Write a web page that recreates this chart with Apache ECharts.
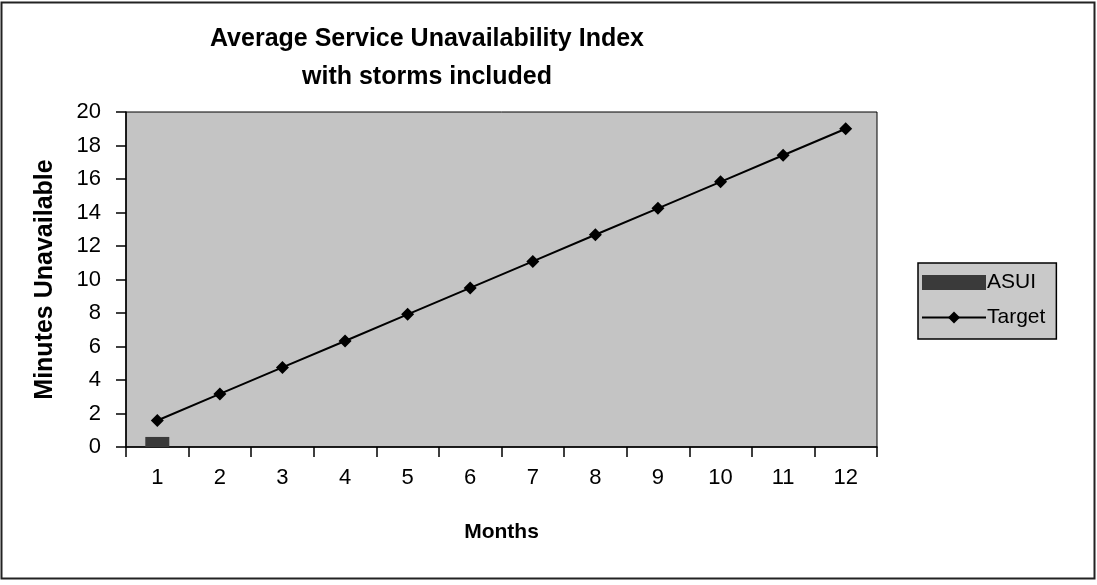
<!DOCTYPE html>
<html><head><meta charset="utf-8">
<script src="https://cdn.jsdelivr.net/npm/echarts@6/dist/echarts.min.js"></script>
<style>html,body{margin:0;padding:0;background:#fff}#c{width:1097px;height:585px}</style>
</head><body><div id="c"></div>
<script>
var months = ['1','2','3','4','5','6','7','8','9','10','11','12'];
var asui = [0.6, null, null, null, null, null, null, null, null, null, null, null];
var target = [1.58, 3.17, 4.75, 6.33, 7.92, 9.5, 11.08, 12.67, 14.25, 15.83, 17.42, 19.0];
var titleLines = ['Average Service Unavailability Index', 'with storms included'];

var chart = echarts.init(document.getElementById('c'));
var font = 'Liberation Sans, Arial, sans-serif';
chart.setOption({
  backgroundColor: '#fff',
  animation: false,
  title: {
    text: titleLines.join('\n'),
    left: 422, top: 15, textAlign: 'center',
    textStyle: {fontFamily: font, fontSize: 25, fontWeight: 'bold', color: '#000', lineHeight: 38}
  },
  graphic: [{
    type: 'rect', shape: {x: 1.5, y: 2.5, width: 1093, height: 576},
    style: {fill: 'none', stroke: '#222', lineWidth: 2}, silent: true
  }],
  legend: {
    orient: 'vertical', left: 918, top: 263,
    width: 139, padding: [9, 11, 11, 3], itemGap: 14,
    backgroundColor: '#c9c9c9', borderColor: '#000', borderWidth: 1.5,
    itemWidth: 64, itemHeight: 15,
    textStyle: {fontFamily: font, fontSize: 21, color: '#000', padding: [0,0,0,-4]},
    data: [{name: 'ASUI', icon: 'rect'}, {name: 'Target'}]
  },
  grid: {
    left: 126, top: 112, width: 751, height: 335,
    show: true, backgroundColor: '#c4c4c4', borderColor: '#000', borderWidth: 1
  },
  xAxis: {
    type: 'category', data: months, boundaryGap: true,
    name: 'Months', nameLocation: 'middle', nameGap: 75,
    nameTextStyle: {fontFamily: font, fontSize: 21, fontWeight: 'bold', color: '#000'},
    axisLine: {lineStyle: {color: '#000', width: 1.5}},
    axisTick: {show: true, alignWithLabel: false, length: 10, lineStyle: {color: '#000', width: 1.5}},
    axisLabel: {fontFamily: font, fontSize: 22, color: '#000', margin: 20}
  },
  yAxis: {
    type: 'value', min: 0, max: 20, interval: 2,
    name: 'Minutes Unavailable', nameLocation: 'middle', nameGap: 68,
    nameTextStyle: {fontFamily: font, fontSize: 25, fontWeight: 'bold', color: '#000'},
    axisLine: {show: true, lineStyle: {color: '#000', width: 1.5}},
    axisTick: {show: true, length: 10, lineStyle: {color: '#000', width: 1.5}},
    axisLabel: {fontFamily: font, fontSize: 22, color: '#000', margin: 25},
    splitLine: {show: false}
  },
  series: [{
    name: 'ASUI', type: 'bar', data: asui, barWidth: 24,
    itemStyle: {color: '#3a3a3a'}
  }, {
    name: 'Target', type: 'line', data: target,
    symbol: 'diamond', symbolSize: 13,
    lineStyle: {color: '#000', width: 2},
    itemStyle: {color: '#000'}
  }]
});
</script></body></html>
